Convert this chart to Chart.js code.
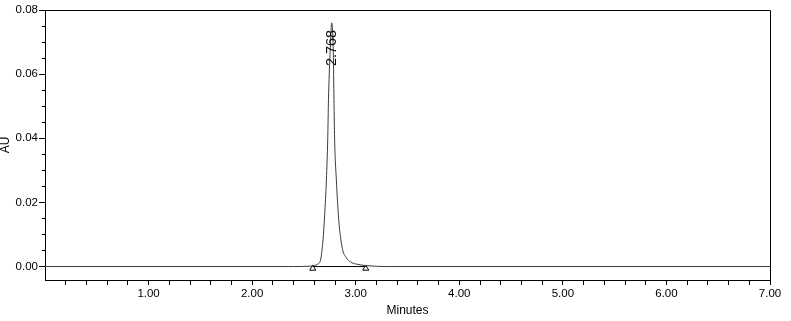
<!DOCTYPE html>
<html>
<head>
<meta charset="utf-8">
<script src="https://cdn.jsdelivr.net/npm/chart.js@4/dist/chart.umd.min.js"></script>
<style>
    html, body { margin: 0; padding: 0; background: #fff; }
    #wrap { width: 791px; height: 321px; position: relative; }
</style>
</head>
<body>
<div id="wrap"><canvas id="chromChart"></canvas></div>
<script>
/* ----- data ----- */
const traceTime = [0, 2.40, 2.55, 2.60, 2.63, 2.66, 2.684, 2.70, 2.717, 2.73, 2.737, 2.752, 2.768,
                   2.784, 2.79, 2.796, 2.813, 2.835, 2.857, 2.875, 2.91, 2.95, 3.00, 3.10, 3.30, 7.00];
const traceAU = [0, 0, 0.0001, 0.0003, 0.0007, 0.002, 0.0083, 0.016, 0.027, 0.040, 0.052, 0.066, 0.076,
                 0.066, 0.052, 0.040, 0.027, 0.015, 0.0083, 0.005, 0.0027, 0.0014, 0.0008, 0.0003, 0, 0];

const peakLabel = '2.768';
const peakTime = 2.768;
const peakLabelAU = 0.0625;

const baselineTime = [2.585, 3.097];
const baselineAU = [0, 0];
const markerAU = [-0.0006, -0.0006];

const xTickValues = [0.2, 0.4, 0.6, 0.8, 1.0, 1.2, 1.4, 1.6, 1.8, 2.0, 2.2, 2.4, 2.6, 2.8, 3.0,
                     3.2, 3.4, 3.6, 3.8, 4.0, 4.2, 4.4, 4.6, 4.8, 5.0, 5.2, 5.4, 5.6, 5.8, 6.0,
                     6.2, 6.4, 6.6, 6.8, 7.0];
const xLabelValues = [1, 2, 3, 4, 5, 6, 7];
const yMajorTicks = [0, 0.02, 0.04, 0.06, 0.08];
const yMinorTicks = [0.005, 0.01, 0.015, 0.025, 0.03, 0.035, 0.045, 0.05, 0.055, 0.065, 0.07, 0.075];

const FONT = '"Liberation Sans", Arial, sans-serif';

const toPoints = (xs, ys) => xs.map((x, i) => ({ x: x, y: ys[i] }));

/* ----- frame, minor ticks and peak label ----- */
const decorPlugin = {
    id: 'decor',
    afterDraw(chart) {
        const { ctx, chartArea: a, scales } = chart;
        ctx.save();
        ctx.strokeStyle = '#000';
        ctx.lineWidth = 1;
        ctx.beginPath();
        ctx.moveTo(Math.round(a.left) + 0.5, Math.round(a.top) + 0.5);
        ctx.lineTo(Math.round(a.right) + 0.5, Math.round(a.top) + 0.5);
        ctx.lineTo(Math.round(a.right) + 0.5, Math.round(a.bottom) + 0.5);
        ctx.stroke();

        ctx.beginPath();
        yMinorTicks.forEach(v => {
            const y = Math.round(scales.y.getPixelForValue(v)) + 0.5;
            ctx.moveTo(a.left - 3, y);
            ctx.lineTo(a.left, y);
        });
        ctx.stroke();

        const px = scales.x.getPixelForValue(peakTime);
        const py = scales.y.getPixelForValue(peakLabelAU);
        ctx.translate(px, py);
        ctx.rotate(-Math.PI / 2);
        ctx.font = '14.5px ' + FONT;
        ctx.fillStyle = '#111';
        ctx.textAlign = 'left';
        ctx.textBaseline = 'middle';
        ctx.fillText(peakLabel, 0, 0);
        ctx.restore();
    }
};

new Chart(document.getElementById('chromChart'), {
    type: 'scatter',
    data: {
        datasets: [
            {
                data: toPoints(traceTime, traceAU),
                showLine: true,
                borderColor: '#3a3a3a',
                borderWidth: 1,
                pointRadius: 0,
                cubicInterpolationMode: 'monotone'
            },
            {
                data: toPoints(baselineTime, baselineAU),
                showLine: true,
                borderColor: '#000',
                borderWidth: 1,
                pointRadius: 0
            },
            {
                data: toPoints(baselineTime, markerAU),
                showLine: false,
                pointStyle: 'triangle',
                pointRadius: 3.5,
                borderColor: '#000',
                borderWidth: 1,
                backgroundColor: '#fff'
            }
        ]
    },
    options: {
        responsive: true,
        maintainAspectRatio: false,
        animation: false,
        layout: { padding: { top: 10, right: 21, left: 0, bottom: 0 } },
        plugins: {
            legend: { display: false },
            tooltip: { enabled: false }
        },
        scales: {
            x: {
                type: 'linear',
                min: 0,
                max: 7,
                afterBuildTicks: (scale) => { scale.ticks = xTickValues.map(v => ({ value: v })); },
                afterFit: (scale) => { scale.height = 41; },
                ticks: {
                    autoSkip: false,
                    maxRotation: 0,
                    padding: 2,
                    color: '#000',
                    font: { family: FONT, size: 11.5 },
                    callback: (v) => xLabelValues.some(l => Math.abs(l - v) < 1e-6) ? v.toFixed(2) : ''
                },
                grid: {
                    drawOnChartArea: false,
                    tickLength: 5,
                    tickColor: '#000'
                },
                border: { color: '#000', width: 1 },
                title: {
                    display: true,
                    text: 'Minutes',
                    color: '#000',
                    font: { family: FONT, size: 12, lineHeight: 1 },
                    padding: { top: 0, bottom: 4 }
                }
            },
            y: {
                type: 'linear',
                min: -0.0042,
                max: 0.08,
                afterBuildTicks: (scale) => { scale.ticks = yMajorTicks.map(v => ({ value: v })); },
                afterFit: (scale) => { scale.width = 45; },
                ticks: {
                    padding: 1,
                    color: '#000',
                    font: { family: FONT, size: 11.5 },
                    callback: (v) => v.toFixed(2)
                },
                grid: {
                    drawOnChartArea: false,
                    tickLength: 6,
                    tickColor: '#000'
                },
                border: { color: '#000', width: 1 },
                title: {
                    display: true,
                    text: 'AU',
                    color: '#000',
                    font: { family: FONT, size: 12, lineHeight: 1 },
                    padding: { top: 0, bottom: 0 }
                }
            }
        }
    },
    plugins: [decorPlugin]
});
</script>
</body>
</html>
